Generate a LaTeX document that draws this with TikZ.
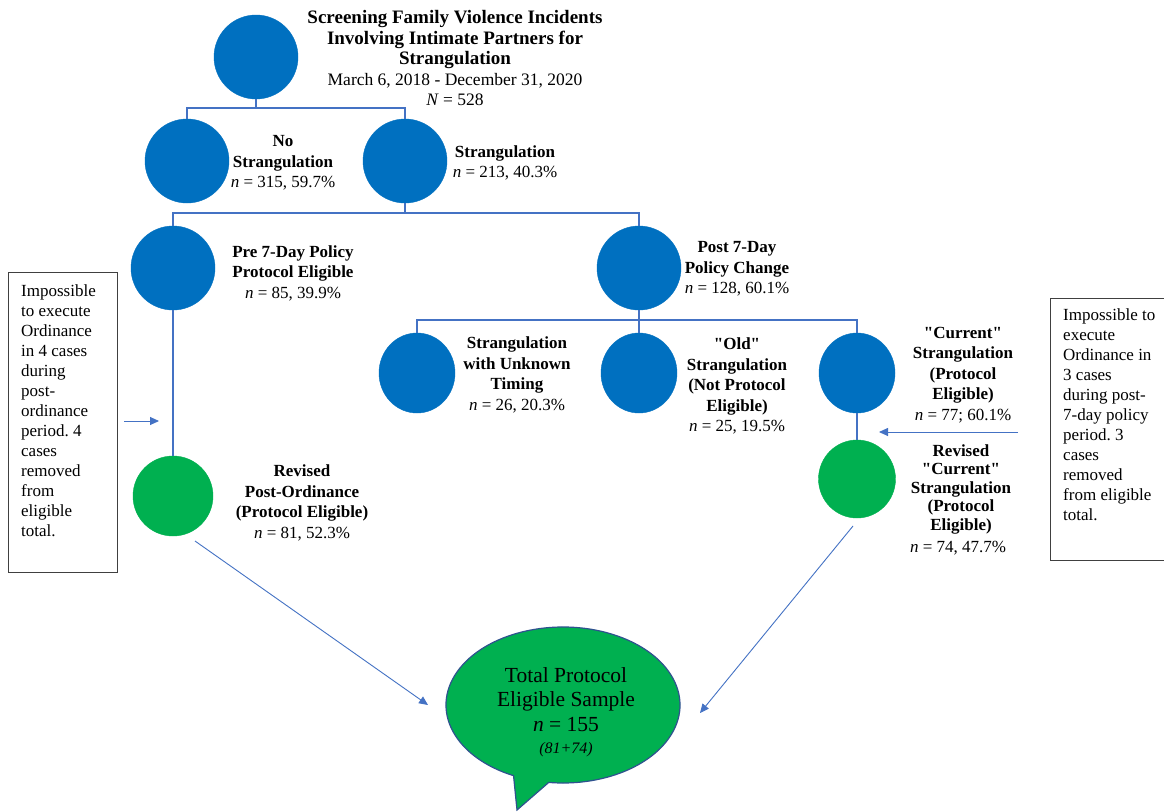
\documentclass[tikz,border=0pt]{standalone}
\usepackage{fontspec}
\setmainfont{Liberation Serif}
\newfontfamily\plainfont{Liberation Serif}
\usetikzlibrary{shapes.geometric,arrows.meta}
\definecolor{nodeblue}{HTML}{0070C0}
\definecolor{nodegreen}{HTML}{00B050}
\definecolor{linkblue}{HTML}{4472C4}
\definecolor{bubbleedge}{HTML}{2F528F}
\newcommand{\sq}{{\plainfont\char34}}
\frenchspacing
\begin{document}
\begin{tikzpicture}[x=1pt,y=-1pt,
  bc/.style={circle, fill=nodeblue, draw=nodeblue, inner sep=0pt, minimum size=84pt},
  be/.style={ellipse, fill=nodeblue, draw=nodeblue, inner sep=0pt, minimum width=76pt, minimum height=80pt},
  gc/.style={circle, fill=nodegreen, draw=nodegreen, inner sep=0pt, minimum size=80pt},
  ge/.style={ellipse, fill=nodegreen, draw=nodegreen, inner sep=0pt, minimum width=77pt, minimum height=78pt},
  lbl/.style={align=center, font=\fontsize{17}{20.5}\selectfont, inner sep=0pt},
  note/.style={align=left, font=\fontsize{17}{20}\selectfont, inner sep=0pt, anchor=north west},
  notebox/.style={draw=black!75, line width=0.9pt, anchor=north west, inner sep=0pt},
  conn/.style={draw=linkblue, line width=1.6pt},
  arr/.style={draw=linkblue, line width=0.9pt, -{Triangle[length=9pt,width=8pt]}}
]
\useasboundingbox (0,0) rectangle (1164,811);
\fill[white] (0,0) rectangle (1164,811);

% circles
\node[bc] (top) at (256,57) {};
\node[bc] (nostr) at (187,161) {};
\node[bc] (strang) at (405,161) {};
\node[bc] (pre) at (173,268) {};
\node[bc] (post) at (639,268) {};
\node[be] (unk) at (417,373) {};
\node[be] (old) at (639,373) {};
\node[be] (cur) at (857,373) {};
\node[gc] (revpost) at (173,496) {};
\node[ge] (revcur) at (857,479) {};

% tree connectors
\coordinate (b1) at (256,108);
\coordinate (b2) at (405,213);
\coordinate (b3) at (639,320);
\draw[conn] (top.south) -- (b1);
\draw[conn] (nostr.north) |- (b1) -| (strang.north);
\draw[conn] (strang.south) -- (b2);
\draw[conn] (pre.north) |- (b2) -| (post.north);
\draw[conn] (post.south) -- (b3);
\draw[conn] (unk.north) |- (b3) -| (cur.north);
\draw[conn] (b3) -- (old.north);
\draw[conn] (pre.south) -- (revpost.north);
\draw[conn] (cur.south) -- (revcur.north);

% labels
\node[lbl] (ltitle) at (455,58) {{\fontsize{19}{21}\selectfont\bfseries Screening Family Violence Incidents}\\{\fontsize{19}{21}\selectfont\bfseries Involving Intimate Partners for}\\{\fontsize{19}{21}\selectfont\bfseries Strangulation}\\{\fontsize{17.5}{21}\selectfont March 6, 2018 - December 31, 2020}\\{\fontsize{17.5}{21}\selectfont\textit{N} = 528}};
\node[lbl] (lno) at (283,163) {\textbf{No}\\\textbf{Strangulation}\\\textit{n} = 315, 59.7\%};
\node[lbl] (lstr) at (505,163) {\textbf{Strangulation}\\\textit{n} = 213, 40.3\%};
\node[lbl] (lpre) at (293,273) {\textbf{Pre 7-Day Policy}\\\textbf{Protocol Eligible}\\\textit{n} = 85, 39.9\%};
\node[lbl] (lpost) at (737,269) {\textbf{Post 7-Day}\\\textbf{Policy Change}\\\textit{n} = 128, 60.1\%};
\node[lbl] (lunk) at (517,375) {\textbf{Strangulation}\\\textbf{with Unknown}\\\textbf{Timing}\\\textit{n} = 26, 20.3\%};
\node[lbl] (lold) at (737,386) {\textbf{\sq Old\sq}\\\textbf{Strangulation}\\\textbf{(Not Protocol}\\\textbf{Eligible)}\\\textit{n} = 25, 19.5\%};
\node[lbl] (lcur) at (963,375) {\textbf{\sq Current\sq}\\\textbf{Strangulation}\\\textbf{(Protocol}\\\textbf{Eligible)}\\\textit{n} = 77; 60.1\%};
\node[lbl] (lrev) at (302,503) {\textbf{Revised}\\\textbf{Post-Ordinance}\\\textbf{(Protocol Eligible)}\\\textit{n} = 81, 52.3\%};
\node[lbl, font=\fontsize{17}{18.5}\selectfont] (lrevcur) at (961,489) {\textbf{Revised}\\\textbf{\sq Current\sq}\\\textbf{Strangulation}\\\textbf{(Protocol}\\\textbf{Eligible)}};
\node[lbl] (lrevcurn) at (958,548) {\textit{n} = 74, 47.7\%};

% note boxes
\node[notebox, minimum width=109pt, minimum height=300pt] (boxl) at (8,272) {};
\node[note] (notel) at (21,284) {Impossible\\to execute\\Ordinance\\in 4 cases\\during\\post-\\ordinance\\period. 4\\cases\\removed\\from\\eligible\\total.};
\node[notebox, minimum width=130pt, minimum height=262pt] (boxr) at (1050,298) {};
\node[note] (noter) at (1063,308) {Impossible to\\execute\\Ordinance in\\3 cases\\during post-\\7-day policy\\period. 3\\cases\\removed\\from eligible\\total.};

% side arrows
\coordinate (la1) at (124,421);
\coordinate (la2) at (159,421);
\draw[arr] (la1) -- (la2);
\coordinate (ra1) at (1018,432);
\coordinate (ra2) at (879,432);
\draw[arr] (ra1) -- (ra2);

% speech bubble
\coordinate (tip) at (517,810);
\coordinate (attach) at (513.55,775.69);
\path[fill=nodegreen, draw=bubbleedge, line width=1.2pt]
  (tip) -- (attach) arc[start angle=115, end angle=457, x radius=117, y radius=78] -- cycle;
\node[align=center, inner sep=0pt, font=\fontsize{21.5}{24.5}\selectfont] (total) at (566,712)
  {Total Protocol\\Eligible Sample\\\textit{n} = 155\\[-2pt]{\fontsize{16}{18}\selectfont\itshape (81+74)}};

% arrows to total
\coordinate (d1) at (195,541);
\coordinate (d2) at (428,705);
\draw[arr] (d1) -- (d2);
\coordinate (d3) at (853,526);
\coordinate (d4) at (700,713);
\draw[arr] (d3) -- (d4);
\end{tikzpicture}
\end{document}
